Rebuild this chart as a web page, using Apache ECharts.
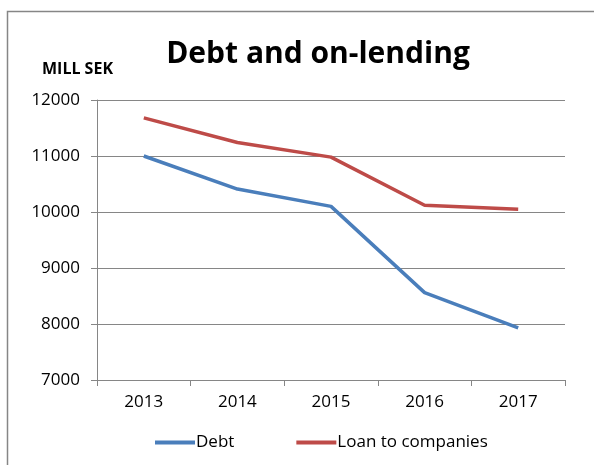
<!DOCTYPE html>
<html>
<head>
<meta charset="utf-8">
<script src="https://cdn.jsdelivr.net/npm/echarts@6/dist/echarts.min.js"></script>
<style>html,body{margin:0;padding:0;background:#fff;}#c{width:594px;height:465px;}</style>
</head>
<body>
<div id="c"></div>
<script>
var years = ['2013', '2014', '2015', '2016', '2017'];
var debt = [11000, 10410, 10100, 8560, 7930];
var loans = [11680, 11240, 10980, 10120, 10050];
var yTicks = { min: 7000, max: 12000, interval: 1000 };

var FONT = 'Open Sans';
var chart = echarts.init(document.getElementById('c'));
chart.setOption({
  animation: false,
  backgroundColor: '#fff',
  graphic: [{
    type: 'rect', shape: { x: 7.5, y: 11.5, width: 640, height: 500 },
    style: { fill: 'none', stroke: '#868686', lineWidth: 1.5 }, silent: true
  }],
  title: [{
    text: 'Debt and on-lending', left: 313, top: 34, textAlign: 'center',
    textStyle: { fontFamily: FONT, fontWeight: 'bold', fontSize: 30, color: '#000' }
  }, {
    text: 'MILL SEK', left: 37, top: 56,
    textStyle: { fontFamily: FONT, fontWeight: 'bold', fontSize: 16, color: '#000' }
  }],
  legend: {
    bottom: 9, left: 150, itemWidth: 40, itemHeight: 4, itemGap: 62, icon: 'rect',
    textStyle: { fontFamily: FONT, fontSize: 17, color: '#000', padding: [0, 0, 0, -4] },
    data: ['Debt', 'Loan to companies']
  },
  grid: { left: 97, right: 29, top: 100, bottom: 85 },
  xAxis: {
    type: 'category', data: years, boundaryGap: true,
    axisLine: { lineStyle: { color: '#868686', width: 1 } },
    axisTick: { show: true, length: 6, lineStyle: { color: '#868686' } },
    axisLabel: { fontFamily: FONT, fontSize: 17, color: '#000', margin: 14 }
  },
  yAxis: {
    type: 'value', min: yTicks.min, max: yTicks.max, interval: yTicks.interval,
    axisLine: { show: true, lineStyle: { color: '#868686', width: 1 } },
    axisTick: { show: true, length: 6, lineStyle: { color: '#868686' } },
    splitLine: { lineStyle: { color: '#868686', width: 1 } },
    axisLabel: { fontFamily: FONT, fontSize: 17, color: '#000', margin: 17,
      formatter: function (v) { return String(v); } }
  },
  series: [{
    name: 'Debt', type: 'line', data: debt, showSymbol: false, symbol: 'none',
    lineStyle: { color: '#4a7ebb', width: 3.5 }, itemStyle: { color: '#4a7ebb' }
  }, {
    name: 'Loan to companies', type: 'line', data: loans, showSymbol: false, symbol: 'none',
    lineStyle: { color: '#be4b48', width: 3.5 }, itemStyle: { color: '#be4b48' }
  }]
});
</script>
</body>
</html>
